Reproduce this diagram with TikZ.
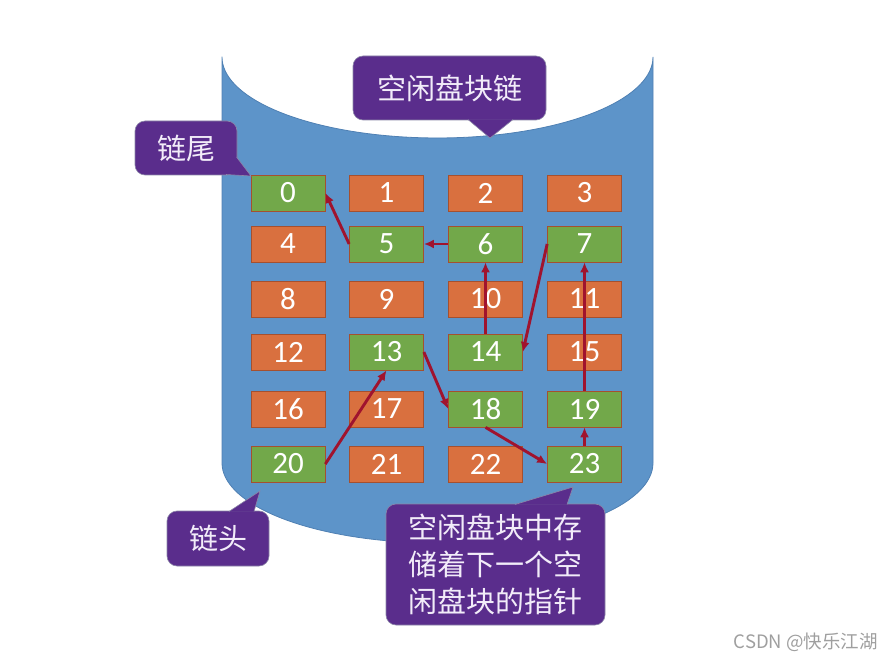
\documentclass[tikz,border=0pt]{standalone}
\usepackage{fontspec}
\setmainfont{Carlito}
\newfontfamily\cjk{Noto Sans CJK SC}
\usetikzlibrary{arrows.meta}
\definecolor{diskblue}{HTML}{5D94C9}
\definecolor{diskline}{HTML}{4F80B3}
\definecolor{freegreen}{HTML}{72A84A}
\definecolor{usedorange}{HTML}{D9703F}
\definecolor{blkline}{HTML}{A5502F}
\definecolor{linkred}{HTML}{A0132E}
\definecolor{notepurple}{HTML}{5A2D8C}
\definecolor{noteline}{HTML}{8C87A8}
\definecolor{notetext}{HTML}{F2ECF9}
\def\freelist{{1,0,0,0,0,1,1,1,0,0,0,0,0,1,1,0,0,0,1,1,1,0,0,1}}
\newcommand{\pointer}[3]{
  \fill[notepurple] #1 -- #2 -- #3 -- cycle;
  \draw[noteline, line width=0.6pt] #1 -- #2 -- #3;
}

\begin{document}
\begin{tikzpicture}[x=1pt, y=-1pt,
    blk/.style={draw=blkline, line width=0.7pt, minimum width=74pt, minimum height=36pt,
      inner sep=0pt, text=white, font=\fontsize{31}{31}\selectfont},
    link/.style={-{Latex[length=10pt, width=9pt]}, linkred, line width=2.9pt},
    note/.style={fill=notepurple, draw=noteline, line width=0.6pt, rounded corners=10pt,
      text=notetext, inner sep=0pt, align=center, font=\cjk\fontsize{29}{37}\selectfont}]
    \useasboundingbox (0,0) rectangle (895,663);

    % disk body
    \fill[diskblue, draw=diskline, line width=0.8pt] (222,57) -- (222,463)
      -- plot[domain=180:0, samples=72] ({437.5+215.5*cos(\x)}, {463+80*sin(\x)})
      -- (653,57)
      -- plot[domain=0:180, samples=72] ({437.5+215.5*cos(\x)}, {57+81*sin(\x)}) -- cycle;

    \foreach \row/\y in {0/193, 1/244, 2/299, 3/352, 4/409, 5/464} {
      \foreach \col/\x in {0/288, 1/386.5, 2/485.5, 3/584.5} {
        \pgfmathtruncatemacro{\n}{4*\row+\col}
        \pgfmathtruncatemacro{\free}{\freelist[\n]}
        \ifnum\free=1 \def\blkfill{freegreen}\else\def\blkfill{usedorange}\fi
        \node[blk, fill=\blkfill] (b\n) at (\x,\y) {\n};
      }
    }

    \draw[link] (b20.east) -- (b13.south);
    \draw[link] (b13.east) -- (b18.west);
    \draw[link] (b18.south) -- (b23.west);
    \draw[link] (b23.north) -- (b19.south);
    \draw[link] (b19.north) -- (b7.south);
    \draw[link] (b7.west) -- (b14.east);
    \draw[link] (b14.north) -- (b6.south);
    \draw[link] (b6.west) -- (b5.east);
    \draw[link] (b5.west) -- (b0.east);

    % callouts
    \node[note, minimum width=193pt, minimum height=64pt] (title) at (449.5,88) {空闲盘块链};
    \pointer{(468,119.5)}{(490,138)}{(513,119.5)}
    \node[note, minimum width=102pt, minimum height=54pt] (tail) at (186,148) {链尾};
    \pointer{(236.5,157)}{(251,176)}{(226,174.5)}
    \node[note, minimum width=102pt, minimum height=55pt] (head) at (218,538.5) {链头};
    \pointer{(229,511.5)}{(260,491)}{(254,511.5)}
    \node[note, minimum width=219pt, minimum height=121pt] (hint) at (495.5,564.5)
      {空闲盘块中存\\储着下一个空\\闲盘块的指针};
    \pointer{(515,504.5)}{(573,487)}{(567,504.5)}

    \node[anchor=east, inner sep=0pt, text=gray!75, font=\cjk\fontsize{18.5}{18.5}\selectfont]
      (mark) at (878,642) {CSDN @快乐江湖};
\end{tikzpicture}
\end{document}
